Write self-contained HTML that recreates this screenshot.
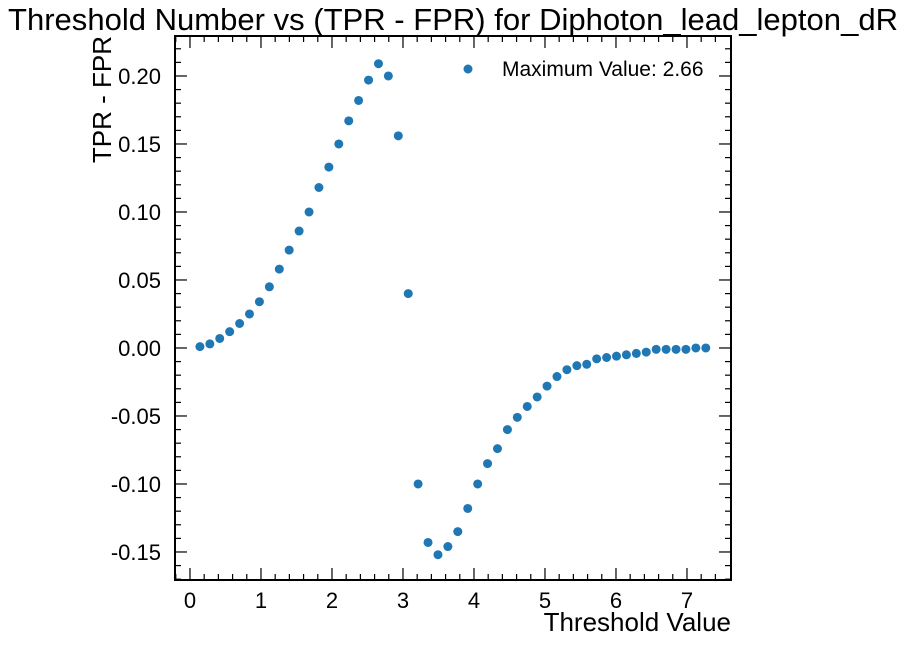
<!DOCTYPE html>
<html><head><meta charset="utf-8"><style>
body{margin:0;background:#fff;}
svg text{font-family:"Liberation Sans",sans-serif;fill:#000;}
</style></head><body>
<svg id="chart" width="906" height="644" viewBox="0 0 906 644" xmlns="http://www.w3.org/2000/svg">
<text x="453" y="30" font-size="31" text-anchor="middle" textLength="890" lengthAdjust="spacingAndGlyphs">Threshold Number vs (TPR - FPR) for Diphoton_lead_lepton_dR</text>
<g id="axes"></g>
<g id="points"></g>
<rect x="175" y="36" width="556" height="544" fill="none" stroke="#000" stroke-width="2"/>
<text x="731" y="631" font-size="26" text-anchor="end">Threshold Value</text>
<text transform="translate(111,36) rotate(-90)" font-size="26" text-anchor="end">TPR - FPR</text>
<g>
<circle cx="468" cy="69" r="4.5" fill="#1f77b4"/>
<text x="502" y="76" font-size="21">Maximum Value: 2.66</text>
</g>
</svg>
<script>
const xValues = [];
for (let i = 0; i < 52; i++) xValues.push(+(0.14 + i * 0.1397).toFixed(3));
const yValues = [0.001,0.003,0.007,0.012,0.018,0.025,0.034,0.045,0.058,0.072,0.086,0.100,0.118,0.133,0.150,0.167,0.182,0.197,0.209,0.200,0.156,0.040,-0.100,-0.143,-0.152,-0.146,-0.135,-0.118,-0.100,-0.085,-0.074,-0.060,-0.051,-0.043,-0.036,-0.028,-0.021,-0.016,-0.013,-0.012,-0.008,-0.007,-0.006,-0.005,-0.004,-0.003,-0.001,-0.001,-0.001,-0.001,0.000,0.000];
const xTicks = [0,1,2,3,4,5,6,7];
const yTicks = [-0.15,-0.10,-0.05,0.00,0.05,0.10,0.15,0.20];
const yTickLabels = ["-0.15","-0.10","-0.05","0.00","0.05","0.10","0.15","0.20"];

const L=175,R=731,T=36,B=580;
const xMin=-0.211,xMax=7.62,yMin=-0.1706,yMax=0.2294;
const sx=v=>L+(v-xMin)/(xMax-xMin)*(R-L);
const sy=v=>B-(v-yMin)/(yMax-yMin)*(B-T);
const NS="http://www.w3.org/2000/svg";
const axes=document.getElementById('axes');
function line(x1,y1,x2,y2,name){const l=document.createElementNS(NS,'line');
l.setAttribute('x1',x1);l.setAttribute('y1',y1);l.setAttribute('x2',x2);l.setAttribute('y2',y2);
l.setAttribute('stroke','#000');l.setAttribute('stroke-width','1.2');


axes.appendChild(l);}
function text(x,y,s,anchor,name){const t=document.createElementNS(NS,'text');
t.setAttribute('x',x);t.setAttribute('y',y);t.setAttribute('font-size','22');t.setAttribute('text-anchor',anchor);t.textContent=s;


axes.appendChild(t);}
for(let v=-0.2;v<=7.6;v+=0.2){const x=sx(v);const maj=Math.abs(v-Math.round(v))<1e-6;const len=maj?12:6;
line(x,B,x,B-len,'x-tick');line(x,T,x,T+len,'x-tick-top');}
xTicks.forEach(v=>text(sx(v),608,String(v),'middle','x-tick-label'));
for(let k=-17;k<=22;k++){const v=k/100;const y=sy(v);const maj=k%5===0;const len=maj?12:6;
line(L,y,L+len,y,'y-tick');line(R,y,R-len,y,'y-tick-right');}
yTicks.forEach((v,i)=>text(161,sy(v)+8,yTickLabels[i],'end','y-tick-label'));
const pg=document.getElementById('points');
xValues.forEach((x,i)=>{const c=document.createElementNS(NS,'circle');
c.setAttribute('cx',sx(x));c.setAttribute('cy',sy(yValues[i]));c.setAttribute('r','4.5');c.setAttribute('fill','#1f77b4');


pg.appendChild(c);});
</script>
</body></html>
